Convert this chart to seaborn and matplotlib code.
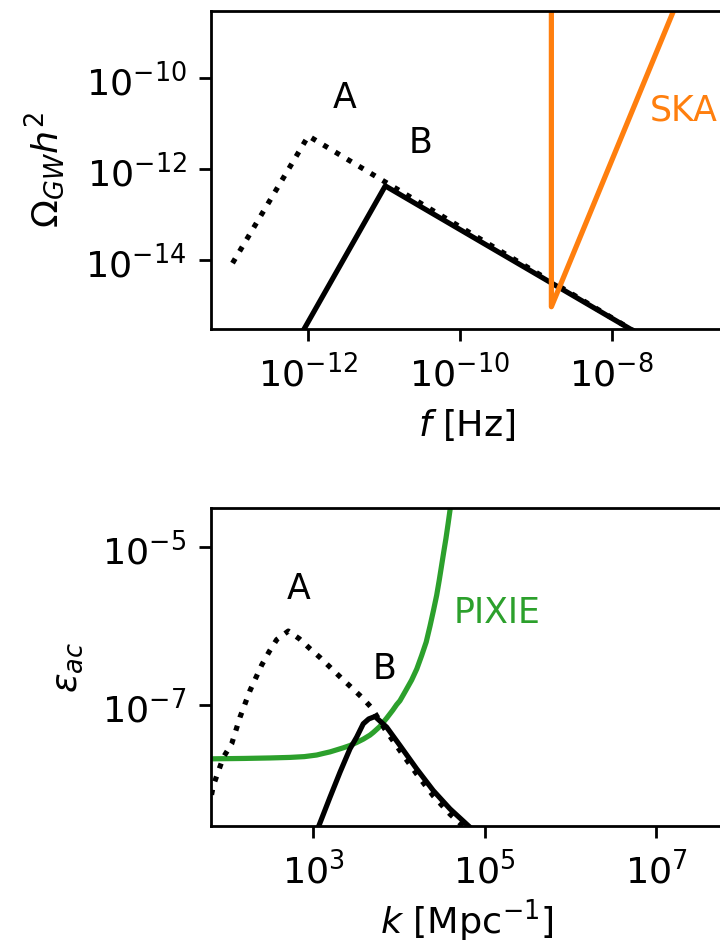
import numpy as np
import pandas as pd
import matplotlib
matplotlib.use("Agg")
import matplotlib.pyplot as plt
from matplotlib.ticker import NullLocator
import seaborn as sns

# ---- gravitational-wave spectrum (log10 f [Hz], log10 Omega_GW h^2) ----
gw_logf_A = [-13.0, -12.0, -7.5]
gw_logO_A = [-14.07, -11.27, -15.77]

gw_logf_B = [-12.1, -10.985, -7.6]
gw_logO_B = [-15.65, -12.37, -15.67]

ska_logf = [-8.794, -8.794, -6.8]
ska_logO = [-5.0, -15.03, -6.97]

# ---- acoustic energy (log10 k [Mpc^-1], log10 eps_ac) ----
ac_logk_A = [1.70, 1.811, 1.838, 1.955, 2.052, 2.149, 2.266, 2.402, 2.491, 2.577,
             2.712, 2.840, 2.965, 3.090, 3.210, 3.326, 3.451, 3.575, 3.684,
             3.839, 4.014, 4.209, 4.402, 4.597, 4.83, 4.90]
ac_logE_A = [-8.45, -8.16, -8.01, -7.653, -7.484, -7.148, -6.811, -6.49, -6.318, -6.170,
             -6.062, -6.158, -6.284, -6.403, -6.529, -6.650, -6.776, -6.903, -7.03,
             -7.30, -7.57, -7.865, -8.14, -8.37, -8.60, -8.66]

ac_logk_B = [3.00, 3.062, 3.198, 3.315, 3.431, 3.509, 3.586, 3.650, 3.723,
             3.859, 4.014, 4.209, 4.402, 4.597, 4.830, 4.90]
ac_logE_B = [-8.62, -8.536, -8.158, -7.842, -7.547, -7.40, -7.231, -7.17, -7.139,
             -7.274, -7.505, -7.80, -8.073, -8.304, -8.536, -8.60]

pixie_logk = [1.70, 1.811, 2.2, 2.5, 2.732, 2.9, 3.043, 3.12, 3.2, 3.353, 3.431,
              3.509, 3.586, 3.664, 3.703, 3.78, 3.859, 3.93, 3.975, 4.014, 4.072,
              4.15, 4.21, 4.267, 4.32, 4.364, 4.405, 4.442, 4.472, 4.500, 4.525,
              4.550, 4.575, 4.597, 4.62]
pixie_logE = [-7.675, -7.673, -7.668, -7.662, -7.655, -7.645, -7.625, -7.605, -7.585,
              -7.534, -7.505, -7.467, -7.425, -7.374, -7.340, -7.265, -7.160, -7.06,
              -6.99, -6.94, -6.83, -6.68, -6.54, -6.37, -6.20, -6.00, -5.80, -5.61,
              -5.42, -5.23, -5.06, -4.895, -4.71, -4.54, -4.36]

# axis ranges and ticks
f_lim = (10**-13.284, 10**-6.53)
O_lim = (10**-15.52, 10**-8.52)
f_ticks = [1e-12, 1e-10, 1e-8]
O_ticks = [1e-14, 1e-12, 1e-10]

k_lim = (10**1.811, 10**7.78)
E_lim = (10**-8.52, 10**-4.51)
k_ticks = [1e3, 1e5, 1e7]
E_ticks = [1e-7, 1e-5]

BLACK = "black"
ORANGE = "#ff7f0e"
GREEN = "#2ca02c"
LW = 1.5
TXT = 10

plt.rcParams["font.size"] = 10.5
fig = plt.figure(figsize=(2.88, 3.78), dpi=250)

ax1 = fig.add_axes([211 / 720, 1 - 329 / 945, 512 / 720, 318 / 945])
ax2 = fig.add_axes([211 / 720, 1 - 826 / 945, 512 / 720, 318 / 945])


def curve(ax, lx, ly, **kw):
    df = pd.DataFrame({"x": 10 ** np.asarray(lx), "y": 10 ** np.asarray(ly)})
    sns.lineplot(data=df, x="x", y="y", ax=ax, sort=False, estimator=None,
                 lw=LW, legend=False, **kw)


for ax in (ax1, ax2):
    ax.set_xscale("log")
    ax.set_yscale("log")

curve(ax1, gw_logf_A, gw_logO_A, color=BLACK, linestyle=":")
curve(ax1, gw_logf_B, gw_logO_B, color=BLACK, linestyle="-")
curve(ax1, ska_logf, ska_logO, color=ORANGE, linestyle="-")

curve(ax2, pixie_logk, pixie_logE, color=GREEN, linestyle="-")
curve(ax2, ac_logk_A, ac_logE_A, color=BLACK, linestyle=":")
curve(ax2, ac_logk_B, ac_logE_B, color=BLACK, linestyle="-")

ax1.set_xlim(*f_lim)
ax1.set_ylim(*O_lim)
ax1.set_xticks(f_ticks)
ax1.set_yticks(O_ticks)
ax1.set_xlabel(r"$f$ [Hz]")
ax1.set_ylabel(r"$\Omega_{GW}h^2$", labelpad=5)

ax2.set_xlim(*k_lim)
ax2.set_ylim(*E_lim)
ax2.set_xticks(k_ticks)
ax2.set_yticks(E_ticks)
ax2.set_xlabel(r"$k$ [Mpc$^{-1}$]", labelpad=2)
ax2.set_ylabel(r"$\varepsilon_{ac}$", labelpad=5)

for ax in (ax1, ax2):
    ax.xaxis.set_minor_locator(NullLocator())
    ax.yaxis.set_minor_locator(NullLocator())

# curve labels
ax1.text(10**-11.525, 10**-10.43, "A", ha="center", va="center", color=BLACK, fontsize=TXT)
ax1.text(10**-10.52, 10**-11.43, "B", ha="center", va="center", color=BLACK, fontsize=TXT)
ax1.text(10**-7.49, 10**-10.70, "SKA", ha="left", va="center", color=ORANGE, fontsize=TXT)

ax2.text(10**2.837, 10**-5.535, "A", ha="center", va="center", color=BLACK, fontsize=TXT)
ax2.text(10**3.839, 10**-6.545, "B", ha="center", va="center", color=BLACK, fontsize=TXT)
ax2.text(10**4.635, 10**-5.84, "PIXIE", ha="left", va="center", color=GREEN, fontsize=TXT)

fig.savefig("out.png", dpi=250)
